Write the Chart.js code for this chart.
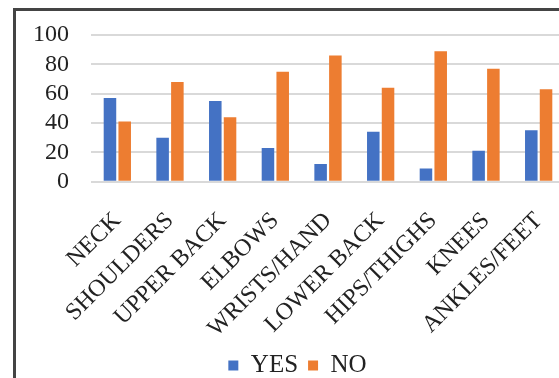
<!DOCTYPE html>
<html>
<head>
<meta charset="utf-8">
<script src="https://cdn.jsdelivr.net/npm/chart.js@4/dist/chart.umd.min.js"></script>
<style>
  html, body { margin: 0; padding: 0; background: #fff; }
  body { width: 559px; height: 378px; position: relative; overflow: hidden; }
  #frame {
    position: absolute; left: 13px; top: 8px; width: 560px; height: 380px;
    border-left: 3px solid #444; border-top: 3px solid #444; box-sizing: border-box;
  }
  #wrap { position: absolute; left: 16px; top: 11px; width: 559px; height: 377px; }
</style>
</head>
<body>
<div id="frame"></div>
<div id="wrap"><canvas id="c"></canvas></div>
<script>
const categories = ['NECK', 'SHOULDERS', 'UPPER BACK', 'ELBOWS', 'WRISTS/HAND',
                    'LOWER BACK', 'HIPS/THIGHS', 'KNEES', 'ANKLES/FEET'];
const yesValues = [57, 30, 55, 23, 12, 34, 9, 21, 35];
const noValues  = [41, 68, 44, 75, 86, 64, 89, 77, 63];
const yTicks = [0, 20, 40, 60, 80, 100];

const serif = '"Liberation Serif", "Times New Roman", serif';
const clear = 'rgba(0,0,0,0)';

new Chart(document.getElementById('c'), {
  type: 'bar',
  data: {
    labels: categories,
    datasets: [
      { label: 'YES', data: yesValues, backgroundColor: '#4472c4',
        barPercentage: 0.85, categoryPercentage: 0.56 },
      { label: 'NO', data: noValues, backgroundColor: '#ed7d31',
        barPercentage: 0.85, categoryPercentage: 0.56 }
    ]
  },
  options: {
    responsive: true,
    maintainAspectRatio: false,
    animation: false,
    layout: { padding: { top: 24, right: 10, left: 14, bottom: 0 } },
    plugins: {
      legend: {
        position: 'bottom',
        labels: {
          font: { family: serif, size: 25 },
          color: '#222',
          boxWidth: 10, boxHeight: 10, padding: 10, useBorderRadius: false
        }
      },
      tooltip: { enabled: false }
    },
    scales: {
      x: {
        grid: { display: false, tickLength: 25 },
        border: { display: false },
        ticks: {
          font: { family: serif, size: 24 },
          color: '#222', autoSkip: false,
          minRotation: 45, maxRotation: 45, padding: 0
        }
      },
      y: {
        min: yTicks[0], max: yTicks[yTicks.length - 1],
        afterBuildTicks: axis => { axis.ticks = yTicks.map(v => ({ value: v })); },
        grid: { color: '#d9d9d9', lineWidth: 2, drawTicks: true, tickLength: 19, tickColor: clear },
        border: { display: false },
        ticks: {
          font: { family: serif, size: 24 },
          color: '#222', autoSkip: false,
          padding: 3
        }
      }
    }
  }
});
</script>
</body>
</html>
